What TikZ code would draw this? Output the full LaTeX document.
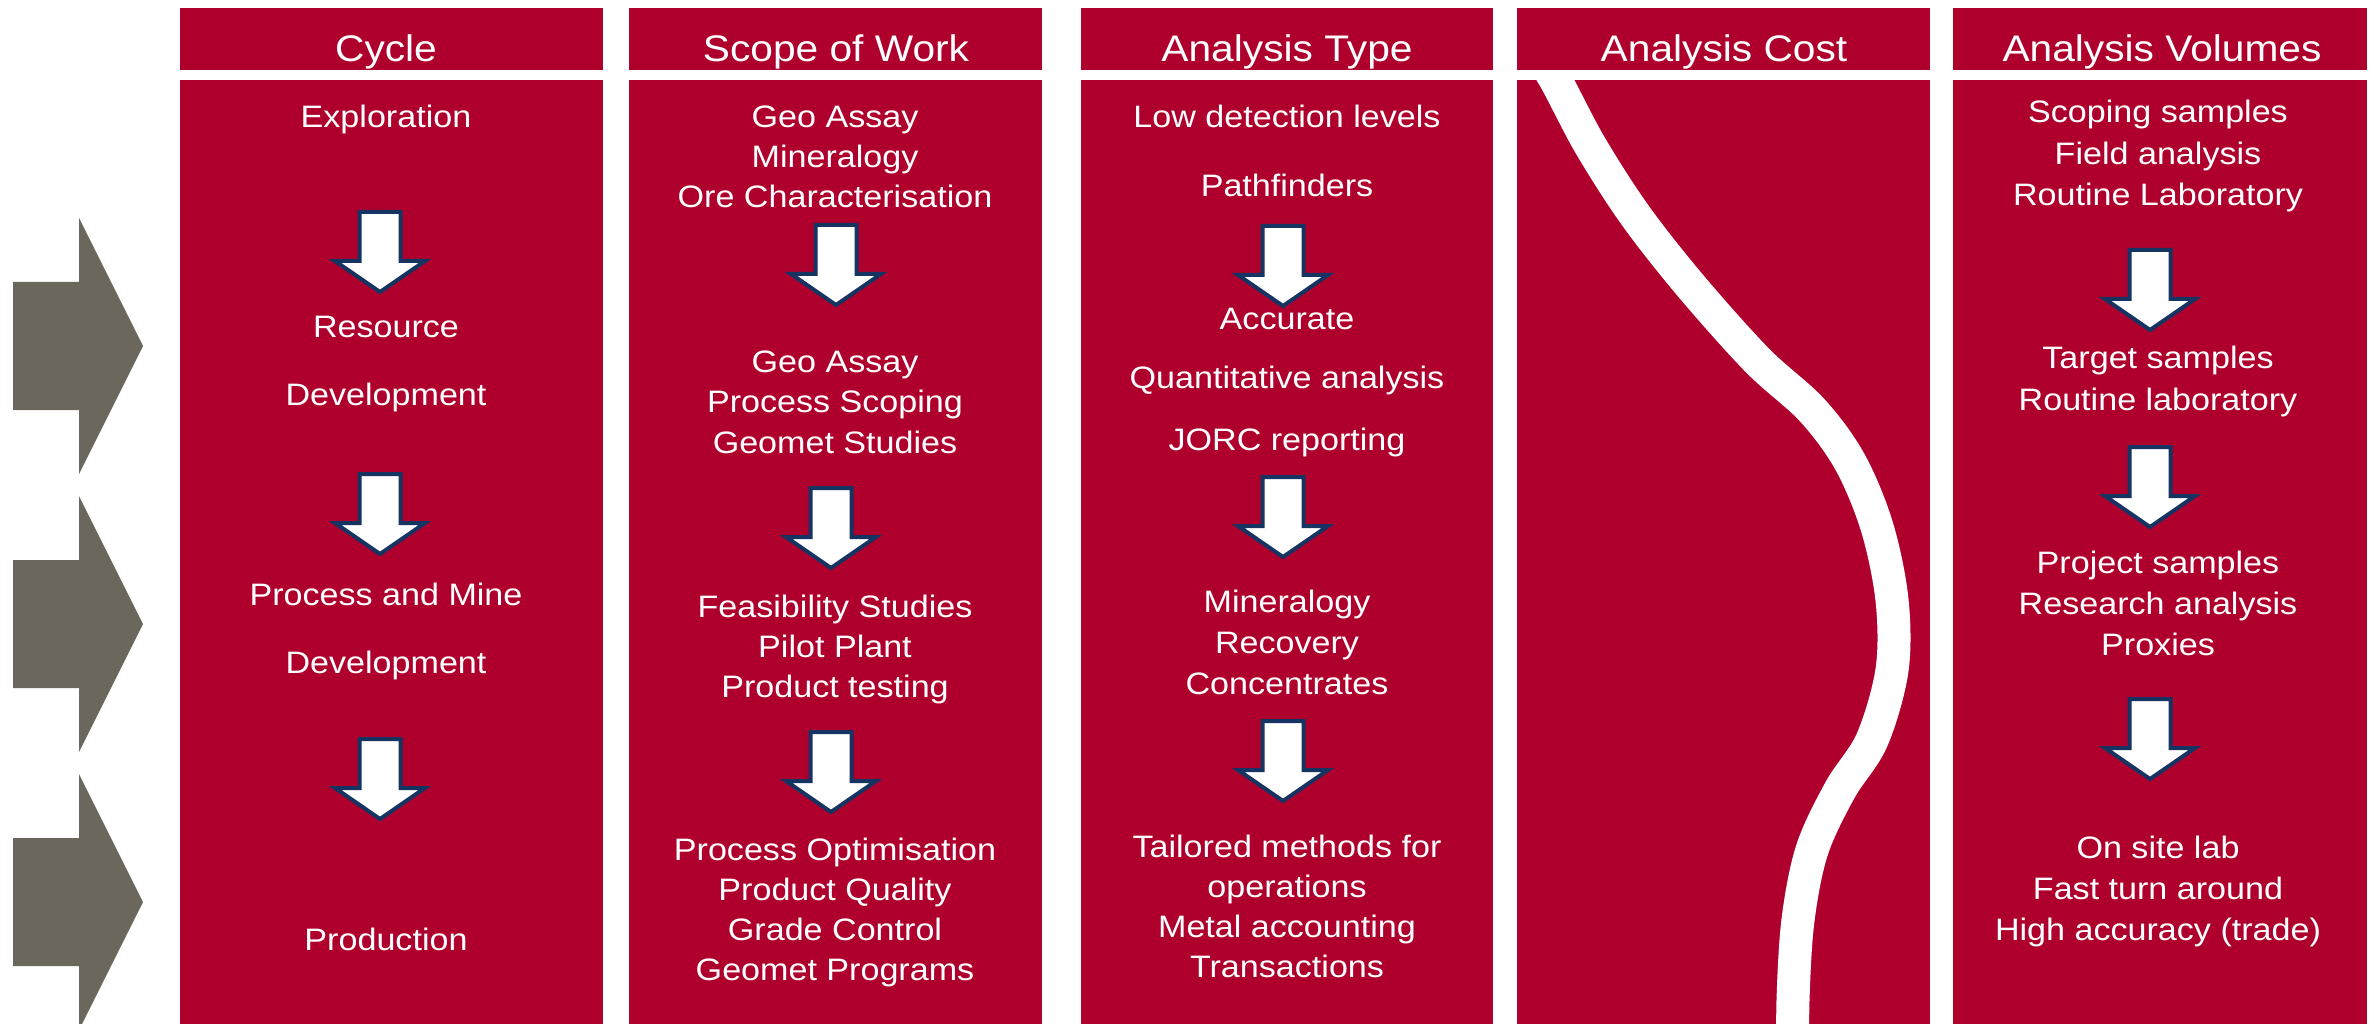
\documentclass[tikz,border=0pt]{standalone}
\usepackage{fontspec}
\setmainfont{Liberation Sans}[FakeStretch=1.1]
\definecolor{crim}{RGB}{175,0,45}
\definecolor{chev}{RGB}{107,103,93}
\definecolor{navy}{RGB}{22,52,98}
\newcommand{\blockdown}[2]{%
  \draw[blockarrow] ({#1-20.5},{#2+2}) -- ({#1+20.5},{#2+2}) -- ({#1+20.5},{#2+51})
    -- ({#1+45},{#2+51}) -- (#1,{#2+82}) -- ({#1-45},{#2+51}) -- ({#1-20.5},{#2+51}) -- cycle;}
\newcommand{\chevshape}[1]{%
  \fill[chevron] (13,{#1-64}) -- (79,{#1-64}) -- (79,{#1-128}) -- (143,#1)
    -- (79,{#1+128}) -- (79,{#1+64}) -- (13,{#1+64}) -- cycle;}
\newcommand{\textstack}[5]{%
  \foreach \t [count=\i from 0] in {#5} {\node[txt] (#1-\i) at (#2,{#3+#4*\i}) {\t};}}
\begin{document}
\begin{tikzpicture}[x=1pt,y=-1pt,
  panel/.style={fill=crim},
  hdr/.style={text=white,font=\fontsize{37}{44}\selectfont,anchor=base,inner sep=0pt},
  txt/.style={text=white,font=\fontsize{31}{40}\selectfont,anchor=base,inner sep=0pt},
  chevron/.style={fill=chev},
  blockarrow/.style={fill=white,draw=navy,line width=4pt},
  costline/.style={draw=white,line width=33pt}
]
\useasboundingbox[fill=white] (0,0) rectangle (2374,1024);

% chevrons
\chevshape{346}
\chevshape{624}
\chevshape{902}

% panels
\fill[panel] (180,8) rectangle (603,70);
\fill[panel] (180,80) rectangle (603,1024);
\fill[panel] (629,8) rectangle (1042,70);
\fill[panel] (629,80) rectangle (1042,1024);
\fill[panel] (1081,8) rectangle (1493,70);
\fill[panel] (1081,80) rectangle (1493,1024);
\fill[panel] (1517,8) rectangle (1930,70);
\fill[panel] (1517,80) rectangle (1930,1024);
\fill[panel] (1953,8) rectangle (2367,70);
\fill[panel] (1953,80) rectangle (2367,1024);

% headers
\node[hdr] (h1) at (386,62) {Cycle};
\node[hdr] (h2) at (836,62) {Scope of Work};
\node[hdr] (h3) at (1287,62) {Analysis Type};
\node[hdr] (h4) at (1724,62) {Analysis Cost};
\node[hdr] (h5) at (2162,62) {Analysis Volumes};

% column 1
\node[txt] (c1a) at (386,128) {Exploration};
\node[txt] (c1b) at (386,337) {Resource};
\node[txt] (c1c) at (386,405) {Development};
\node[txt] (c1d) at (386,605) {Process and Mine};
\node[txt] (c1e) at (386,673) {Development};
\node[txt] (c1f) at (386,950) {Production};
\blockdown{380}{210}
\blockdown{380}{472}
\blockdown{380}{737}

% column 2
\textstack{c2a}{835}{128}{40}{Geo Assay,Mineralogy,Ore Characterisation}
\textstack{c2b}{835}{372}{40.5}{Geo Assay,Process Scoping,Geomet Studies}
\textstack{c2c}{835}{617}{40}{Feasibility Studies,Pilot Plant,Product testing}
\textstack{c2d}{835}{860}{40.3}{Process Optimisation,Product Quality,Grade Control,Geomet Programs}
\blockdown{836}{223}
\blockdown{831}{486}
\blockdown{831}{730}

% column 3
\node[txt] (c3a) at (1287,128) {Low detection levels};
\node[txt] (c3b) at (1287,197) {Pathfinders};
\node[txt] (c3c) at (1287,329) {Accurate};
\node[txt] (c3d) at (1287,388) {Quantitative analysis};
\node[txt] (c3e) at (1287,450) {JORC reporting};
\textstack{c3f}{1287}{612}{41}{Mineralogy,Recovery,Concentrates}
\textstack{c3g}{1287}{857}{40}{Tailored methods for,operations,Metal accounting,Transactions}
\blockdown{1283}{224}
\blockdown{1283}{475}
\blockdown{1283}{719}

% column 4 : cost curve
\begin{scope}
\clip (1517,80) rectangle (1930,1024);
\draw[costline] plot[smooth,tension=0.55] coordinates {
 (1530,40) (1555,79) (1590,145) (1635,215) (1690,285) (1757,360) (1812,410)
 (1850,462) (1877,527) (1892,600) (1892,670) (1872,740) (1840,790)
 (1812,850) (1798,920) (1793,1000) (1793,1070)};
\end{scope}

% column 5
\textstack{c5a}{2158}{123}{41.5}{Scoping samples,Field analysis,Routine Laboratory}
\textstack{c5b}{2158}{368}{42}{Target samples,Routine laboratory}
\textstack{c5c}{2158}{573}{41}{Project samples,Research analysis,Proxies}
\textstack{c5d}{2158}{858}{41}{On site lab,Fast turn around,High accuracy (trade)}
\blockdown{2150}{248}
\blockdown{2150}{445}
\blockdown{2150}{697}
\end{tikzpicture}
\end{document}
